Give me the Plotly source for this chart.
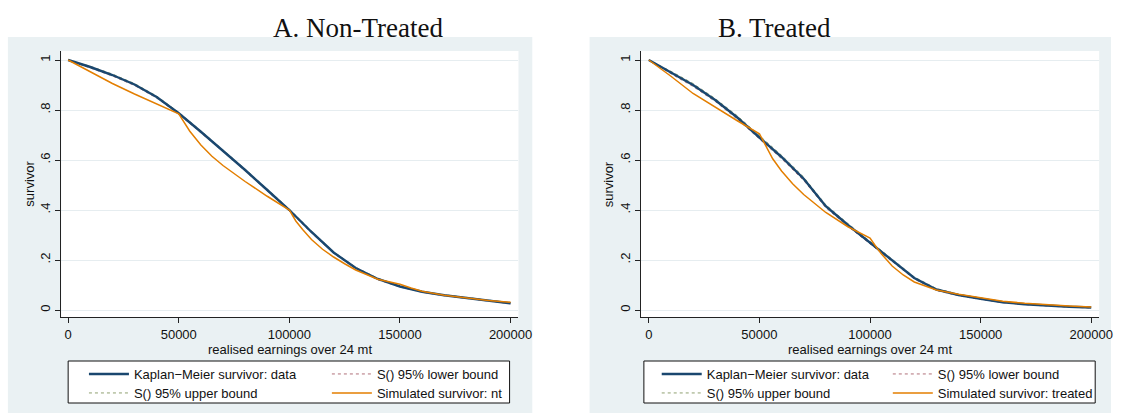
import plotly.graph_objects as go

# ---------------- data ----------------
km_x = [0, 10000, 20000, 30000, 40000, 50000, 60000, 70000, 80000, 90000, 100000,
        110000, 120000, 130000, 140000, 150000, 160000, 170000, 180000, 190000, 200000]

# Panel A: Non-Treated
km_nt_y = [1.000, 0.972, 0.940, 0.902, 0.852, 0.787, 0.713, 0.638, 0.560, 0.480, 0.400,
           0.312, 0.230, 0.168, 0.124, 0.094, 0.073, 0.059, 0.048, 0.037, 0.027]
lo_nt_y = [1.000, 0.969, 0.936, 0.898, 0.848, 0.783, 0.709, 0.634, 0.556, 0.476, 0.396,
           0.308, 0.227, 0.165, 0.121, 0.092, 0.071, 0.057, 0.046, 0.035, 0.025]
hi_nt_y = [1.000, 0.975, 0.944, 0.906, 0.856, 0.791, 0.717, 0.642, 0.564, 0.484, 0.404,
           0.316, 0.233, 0.171, 0.127, 0.096, 0.075, 0.061, 0.050, 0.039, 0.029]
sim_nt_x = [0, 10000, 20000, 30000, 40000, 50000, 55000, 60000, 65000, 70000, 80000, 90000,
            100000, 103000, 106000, 110000, 115000, 120000, 125000, 130000, 140000, 150000,
            155000, 160000, 170000, 180000, 190000, 200000]
sim_nt_y = [1.000, 0.952, 0.906, 0.864, 0.824, 0.785, 0.715, 0.660, 0.615, 0.578, 0.514, 0.455,
            0.400, 0.355, 0.322, 0.282, 0.243, 0.212, 0.185, 0.160, 0.123, 0.103,
            0.088, 0.075, 0.059, 0.047, 0.038, 0.031]

# Panel B: Treated
km_t_y = [1.000, 0.950, 0.900, 0.840, 0.770, 0.690, 0.612, 0.525, 0.415, 0.340, 0.270,
          0.200, 0.128, 0.082, 0.060, 0.045, 0.031, 0.023, 0.017, 0.013, 0.010]
lo_t_y = [1.000, 0.945, 0.894, 0.834, 0.763, 0.683, 0.605, 0.518, 0.409, 0.334, 0.265,
          0.195, 0.124, 0.078, 0.057, 0.042, 0.029, 0.021, 0.015, 0.011, 0.008]
hi_t_y = [1.000, 0.955, 0.906, 0.846, 0.777, 0.697, 0.619, 0.532, 0.421, 0.346, 0.275,
          0.205, 0.132, 0.086, 0.063, 0.048, 0.033, 0.025, 0.019, 0.015, 0.012]
sim_t_x = [0, 10000, 20000, 30000, 40000, 50000, 53000, 56000, 60000, 65000, 70000, 80000,
           90000, 100000, 102000, 105000, 110000, 115000, 120000, 130000, 140000, 150000,
           160000, 170000, 180000, 190000, 200000]
sim_t_y = [1.000, 0.935, 0.866, 0.810, 0.757, 0.705, 0.655, 0.605, 0.556, 0.505, 0.462, 0.390,
           0.333, 0.288, 0.262, 0.226, 0.176, 0.140, 0.112, 0.080, 0.063, 0.049,
           0.035, 0.027, 0.020, 0.016, 0.012]

x_tickvals = [0, 50000, 100000, 150000, 200000]
x_ticktext = ["0", "50000", "100000", "150000", "200000"]
y_tickvals = [0, 0.2, 0.4, 0.6, 0.8, 1.0]
y_ticktext = ["0", ".2", ".4", ".6", ".8", "1"]

panel_titles = ["A. Non-Treated", "B. Treated"]
sim_names = ["Simulated survivor: nt", "Simulated survivor: treated"]
x_title = "realised earnings over 24 mt"
y_title = "survivor"

# ---------------- styling ----------------
W, H = 1125, 415
NAVY = "#1A476F"
MAROON = "#B0707A"
GREEN = "#8FA070"
ORANGE = "#E37E00"
BG = "#EAF1F3"
GRID = "#E6EDF0"
SANS = "Liberation Sans, Arial, sans-serif"
SERIF = "Liberation Serif, Times New Roman, serif"


def px(x):
    return x / W


def py(y):
    return 1 - y / H


fig = go.Figure()

# geometry (pixels)
plot_y0, plot_y1 = 51, 317
panel_geo = [
    dict(x0=62, x1=525, zero=69, bg=(8, 539), leg=(69, 516), title=363, ytitle=30,
         col=(85, 331)),
    dict(x0=649, x1=1113, zero=657, bg=(597, 1125), leg=(652, 1109), title=784, ytitle=617,
         col=(665, 899)),
]
row_y = (359, 378)

panels = [
    dict(xa="x", ya="y", km=km_nt_y, lo=lo_nt_y, hi=hi_nt_y, sx=sim_nt_x, sy=sim_nt_y,
         leg=("legend", "legend2", "legend3", "legend4"), sim=sim_names[0]),
    dict(xa="x2", ya="y2", km=km_t_y, lo=lo_t_y, hi=hi_t_y, sx=sim_t_x, sy=sim_t_y,
         leg=("legend5", "legend6", "legend7", "legend8"), sim=sim_names[1]),
]

for p in panels:
    fig.add_trace(go.Scatter(x=km_x, y=p["lo"], mode="lines", name="S() 95% lower bound",
                             line=dict(color=MAROON, width=1, dash="dot"), showlegend=True,
                             xaxis=p["xa"], yaxis=p["ya"], legend=p["leg"][1]))
    fig.add_trace(go.Scatter(x=km_x, y=p["hi"], mode="lines", name="S() 95% upper bound",
                             line=dict(color=GREEN, width=1, dash="dot"), showlegend=True,
                             xaxis=p["xa"], yaxis=p["ya"], legend=p["leg"][2]))
    fig.add_trace(go.Scatter(x=km_x, y=p["km"], mode="lines", name="Kaplan\u2212Meier survivor: data",
                             line=dict(color=NAVY, width=2.4), showlegend=True,
                             xaxis=p["xa"], yaxis=p["ya"], legend=p["leg"][0]))
    fig.add_trace(go.Scatter(x=p["sx"], y=p["sy"], mode="lines", name=p["sim"],
                             line=dict(color=ORANGE, width=1.5), showlegend=True,
                             xaxis=p["xa"], yaxis=p["ya"], legend=p["leg"][3]))

pix_per_unit = 448 / 200000
yr = [(310 - plot_y1) / 250, (310 - plot_y0) / 250]

axis_common = dict(showline=True, linecolor="#222222", linewidth=1, ticks="outside",
                   ticklen=5, tickcolor="#222222", tickfont=dict(family=SANS, size=13, color="#111"),
                   zeroline=False, mirror=False)

for i, g in enumerate(panel_geo):
    xr = [(g["x0"] - g["zero"]) / pix_per_unit, (g["x1"] - g["zero"]) / pix_per_unit]
    xname = "xaxis" if i == 0 else "xaxis2"
    yname = "yaxis" if i == 0 else "yaxis2"
    fig.layout[xname] = dict(domain=[px(g["x0"]), px(g["x1"])], range=xr, anchor="y" if i == 0 else "y2",
                             tickvals=x_tickvals, ticktext=x_ticktext, showgrid=False,
                             **axis_common)
    fig.layout[yname] = dict(domain=[py(plot_y1), py(plot_y0)], range=yr, anchor="x" if i == 0 else "x2",
                             tickvals=y_tickvals, ticktext=y_ticktext, tickangle=-90,
                             showgrid=True, gridcolor=GRID, gridwidth=1,
                             **axis_common)

shapes = []
for g in panel_geo:
    shapes.append(dict(type="rect", xref="paper", yref="paper", layer="below",
                       x0=px(g["bg"][0]), x1=px(g["bg"][1]), y0=py(413), y1=py(37),
                       fillcolor=BG, line=dict(width=0)))
    shapes.append(dict(type="rect", xref="paper", yref="paper", layer="below",
                       x0=px(g["x0"]), x1=px(g["x1"]), y0=py(plot_y1), y1=py(plot_y0),
                       fillcolor="white", line=dict(width=0)))
    shapes.append(dict(type="rect", xref="paper", yref="paper", layer="below",
                       x0=px(g["leg"][0]), x1=px(g["leg"][1]), y0=py(403), y1=py(361),
                       fillcolor="white", line=dict(color="#111", width=1)))

annotations = []
for g, t in zip(panel_geo, panel_titles):
    annotations.append(dict(text=t, x=px(g["title"]), y=py(28), xref="paper", yref="paper",
                            showarrow=False, xanchor="center", yanchor="middle",
                            font=dict(family=SERIF, size=27, color="#111")))
    annotations.append(dict(text=y_title, x=px(g["ytitle"]), y=py(184), xref="paper", yref="paper",
                            showarrow=False, xanchor="center", yanchor="middle", textangle=-90,
                            font=dict(family=SANS, size=13, color="#111")))
    annotations.append(dict(text=x_title, x=px((g["x0"] + g["x1"]) / 2), y=py(349),
                            xref="paper", yref="paper", showarrow=False,
                            xanchor="center", yanchor="middle",
                            font=dict(family=SANS, size=13, color="#111")))

leg_common = dict(orientation="h", bgcolor="rgba(0,0,0,0)", borderwidth=0,
                  font=dict(family=SANS, size=13, color="#111"),
                  xanchor="left", yanchor="top", itemwidth=40, visible=True)

legends = {}
for pi, g in enumerate(panel_geo):
    for k in range(4):
        name = "legend" if (pi == 0 and k == 0) else "legend%d" % (pi * 4 + k + 1)
        col = k % 2
        row = k // 2
        legends[name] = dict(x=px(g["col"][col]), y=py(row_y[row]), **leg_common)

fig.update_layout(
    width=W, height=H, margin=dict(l=0, r=0, t=0, b=0),
    paper_bgcolor="white", plot_bgcolor="white", showlegend=True,
    shapes=shapes, annotations=annotations,
    **legends,
)

fig.write_html("out.html")
